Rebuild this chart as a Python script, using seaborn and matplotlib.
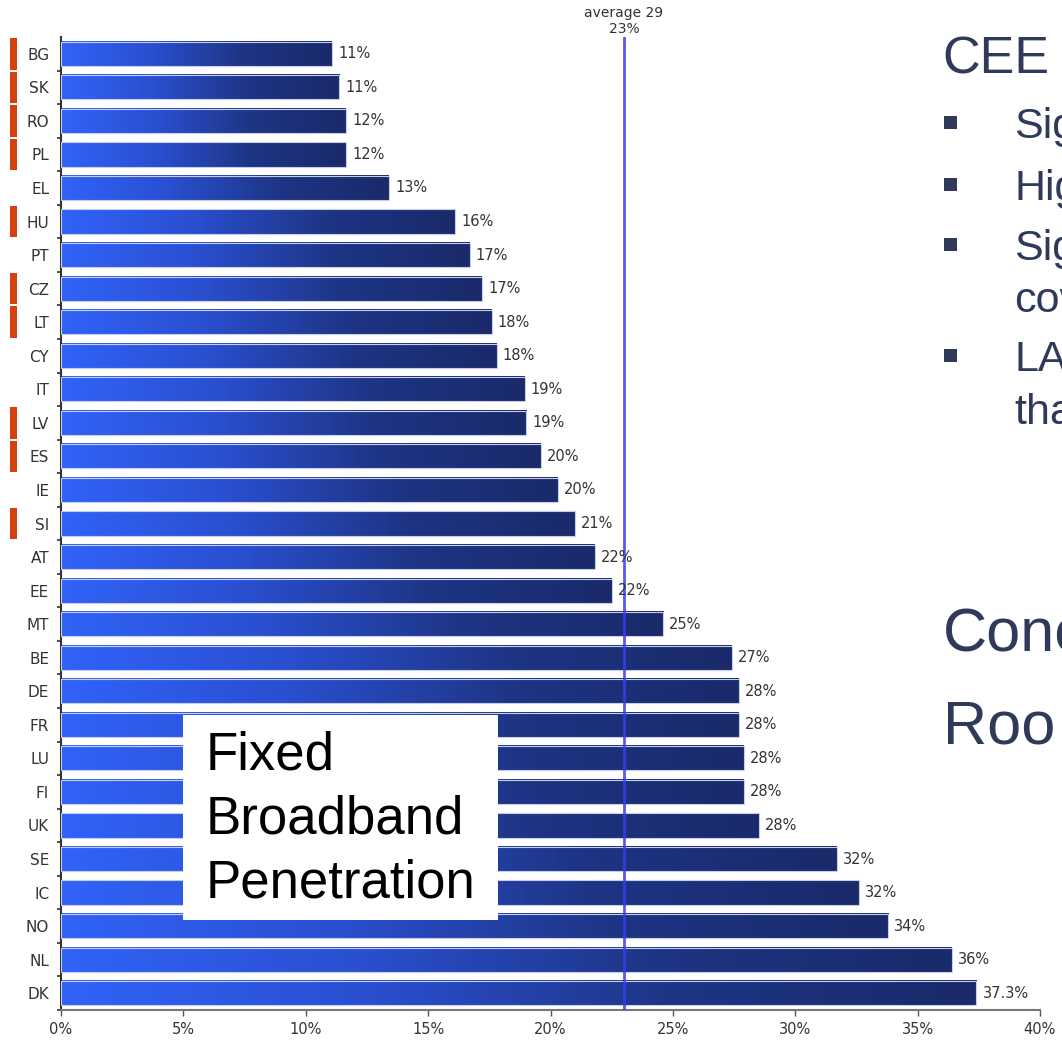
import numpy as np
import pandas as pd
import matplotlib
matplotlib.use("Agg")
import matplotlib.pyplot as plt
import seaborn as sns
from matplotlib.patches import Rectangle
from matplotlib.colors import LinearSegmentedColormap
import matplotlib.transforms as mtransforms

countries = ["BG", "SK", "RO", "PL", "EL", "HU", "PT", "CZ", "LT", "CY", "IT", "LV",
             "ES", "IE", "SI", "AT", "EE", "MT", "BE", "DE", "FR", "LU", "FI", "UK",
             "SE", "IC", "NO", "NL", "DK"]
values = [11.07, 11.36, 11.64, 11.64, 13.4, 16.1, 16.7, 17.2, 17.6, 17.8, 18.95, 19.0,
          19.6, 20.3, 21.0, 21.8, 22.5, 24.6, 27.4, 27.7, 27.7, 27.9, 27.9, 28.5,
          31.7, 32.6, 33.8, 36.4, 37.4]
value_labels = ["11%", "11%", "12%", "12%", "13%", "16%", "17%", "17%", "18%", "18%",
                "19%", "19%", "20%", "20%", "21%", "22%", "22%", "25%", "27%", "28%",
                "28%", "28%", "28%", "28%", "32%", "32%", "34%", "36%", "37.3%"]
cee_flag = [1, 1, 1, 1, 0, 1, 0, 1, 1, 0, 0, 1, 1, 0, 1, 0, 0, 0, 0, 0, 0, 0, 0, 0,
            0, 0, 0, 0, 0]
average_value = 23
average_text = "average 29\n23%"
x_ticks = [0, 5, 10, 15, 20, 25, 30, 35, 40]
x_tick_labels = ["0%", "5%", "10%", "15%", "20%", "25%", "30%", "35%", "40%"]
box_lines = ["Fixed", "Broadband", "Penetration"]

df = pd.DataFrame({"country": countries, "value": values})

sns.set_theme(style="white")
plt.rcParams["font.family"] = ["DejaVu Sans"]

W, H = 1062, 1040
fig = plt.figure(figsize=(W / 100, H / 100), dpi=100)
ax = fig.add_axes([61 / W, 1 - 1010 / H, (1040 - 61) / W, (1010 - 37) / H])

sns.barplot(data=df, x="value", y="country", orient="h", width=0.72,
            color="#3366FF", ax=ax)

cmap = LinearSegmentedColormap.from_list("bar", ["#3163F8", "#2A4FD0", "#1E3585", "#1A2A6A"])
grad = np.linspace(0, 1, 256).reshape(1, -1)
for p in list(ax.patches):
    x0, y0 = p.get_x(), p.get_y()
    w, h = p.get_width(), p.get_height()
    ax.imshow(grad, cmap=cmap, aspect="auto", extent=[x0, x0 + w, y0 + h, y0],
              zorder=2, interpolation="bicubic")
    p.set_facecolor("none")
    p.set_edgecolor("#C5CEEA")
    p.set_linewidth(0.8)
    p.set_zorder(3)

ax.set_xlim(0, 40)
ax.set_ylim(len(countries) - 0.5, -0.5)

for i, (v, lab) in enumerate(zip(values, value_labels)):
    ax.text(v + 0.25, i, lab, va="center", ha="left", fontsize=10.5, color="#333333", zorder=5)

ax.axvline(average_value, color="#3B3BF0", lw=2, alpha=0.85, zorder=4)
ax.text(average_value, -0.52, average_text, ha="center", va="bottom", fontsize=10,
        color="#333333", linespacing=1.2)

ax.set_xticks(x_ticks)
ax.set_xticklabels(x_tick_labels, fontsize=10.5, color="#333333")
ax.set_xlabel("")
ax.set_ylabel("")
ax.tick_params(axis="y", length=0, pad=8.5, labelsize=11, labelcolor="#333333")
ax.set_yticks(np.arange(len(countries)) + 0.5, minor=True)
ax.tick_params(axis="y", which="minor", length=3, width=1.2, color="#333333", left=True)
ax.tick_params(axis="x", bottom=True, length=4, width=1, color="#555555", pad=5)
for s in ["top", "right"]:
    ax.spines[s].set_visible(False)
ax.spines["left"].set_color("#333333")
ax.spines["left"].set_linewidth(1.5)
ax.spines["bottom"].set_color("#777777")
ax.spines["bottom"].set_linewidth(1.5)

# CEE markers
trans = mtransforms.blended_transform_factory(fig.transFigure, ax.transData)
for i, f in enumerate(cee_flag):
    if f:
        ax.add_patch(Rectangle((10 / W, i - 0.47), 7 / W, 0.94, transform=trans,
                               facecolor="#D2420E", edgecolor="none", clip_on=False))

# White label box
fig.add_artist(Rectangle((183 / W, 1 - 920 / H), 315 / W, 205 / H,
                         transform=fig.transFigure, facecolor="white", edgecolor="none",
                         zorder=10))
for k, line in enumerate(box_lines):
    fig.text(206 / W, 1 - (770 + k * 63.5) / H, line, fontsize=38, color="black",
             family="Liberation Sans", va="baseline", ha="left", zorder=11)

# Right side slide text
tc = "#2F3A5A"
fig.text(942 / W, 1 - 73 / H, "CEE", fontsize=37.5, color=tc, family="Liberation Sans",
         va="baseline", ha="left")
bullets = [(138, "Sig", True), (200, "Hig", True), (260, "Sig", True), (312, "cov", False),
           (371, "LA", True), (424, "tha", False)]
for yb, txt, has_b in bullets:
    fig.text(1014 / W, 1 - yb / H, txt, fontsize=31, color=tc, family="Liberation Sans",
             va="baseline", ha="left")
    if has_b:
        fig.add_artist(Rectangle((944 / W, 1 - (yb - 9) / H), 13 / W, 13 / H,
                                 transform=fig.transFigure, facecolor=tc,
                                 edgecolor="none"))
fig.text(943 / W, 1 - 652 / H, "Conc", fontsize=44, color=tc, family="Liberation Sans",
         va="baseline", ha="left")
fig.text(943 / W, 1 - 743 / H, "Roo", fontsize=44, color=tc, family="Liberation Sans",
         va="baseline", ha="left")

fig.savefig("out.png", dpi=100)
